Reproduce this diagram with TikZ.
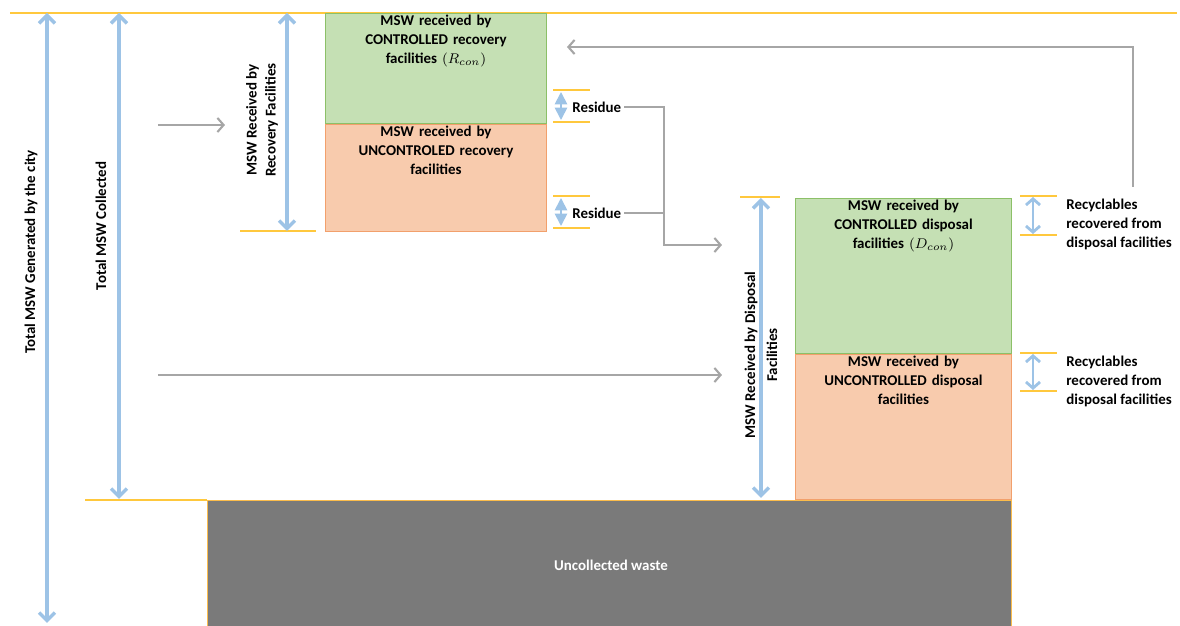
\documentclass[tikz,border=0pt]{standalone}
\usepackage{fontspec}
\setmainfont{Carlito}
\usetikzlibrary{arrows.meta}
\definecolor{lineyellow}{HTML}{FFC83D}
\definecolor{arrowblue}{HTML}{9DC3E6}
\definecolor{flowgray}{HTML}{A6A6A6}
\definecolor{confill}{HTML}{C5E0B4}
\definecolor{condraw}{HTML}{8CC068}
\definecolor{unconfill}{HTML}{F8CBAD}
\definecolor{uncondraw}{HTML}{F2A06C}
\definecolor{wastefill}{HTML}{7A7A7A}
\newcommand\diagfont{\fontsize{8.5}{10.8}\selectfont\bfseries}
\tikzset{
  yellowline/.style={lineyellow, line width=1.2pt},
  sizearrow/.style={arrowblue, line width=2pt, {Straight Barb[length=4.5pt,width=9pt]}-{Straight Barb[length=4.5pt,width=9pt]}},
  recarrow/.style={arrowblue, line width=1.6pt, {Straight Barb[length=3.5pt,width=8pt]}-{Straight Barb[length=3.5pt,width=8pt]}},
  resarrow/.style={arrowblue, line width=1pt, {Triangle[length=7pt,width=7pt]}-{Triangle[length=7pt,width=7pt]}},
  flowline/.style={flowgray, line width=1.2pt},
  flowarrow/.style={flowline, -{Straight Barb[length=3.5pt,width=8pt]}},
  conbox/.style={draw=condraw, fill=confill, line width=0.6pt, anchor=north west},
  unconbox/.style={draw=uncondraw, fill=unconfill, line width=0.6pt, anchor=north west},
  wastebox/.style={draw=lineyellow!70!uncondraw, fill=wastefill, line width=0.5pt, anchor=north west},
  boxtext/.style={text width=4cm, align=center, anchor=north},
  sidelabel/.style={rotate=90, align=center},
}
\begin{document}
\begin{tikzpicture}[scale=0.2]
		\tikzstyle{every node}+=[inner sep=0pt, font=\diagfont]
		\useasboundingbox (0,0) rectangle (118,-62.6);
		\clip (0,0) rectangle (118,-62.6);
		% levels
		\draw [yellowline] (1,-1.3) -- (117.7,-1.3);
		\draw [yellowline] (8.5,-50) -- (20.7,-50);
		% uncollected waste
		\node [wastebox, minimum width=16.08cm, minimum height=2.8cm] (waste) at (20.7,-50) {};
		\node [text=white] (wasteText) at (61.1,-56.5) {Uncollected waste};
		% totals
		\coordinate (genTop) at (4.7,-1.3);
		\coordinate (genBot) at (4.7,-62.3);
		\draw [sizearrow] (genTop) -- (genBot);
		\node [sidelabel] (genLabel) at (3.1,-25.2) {Total MSW Generated by the city};
		\coordinate (colTop) at (11.9,-1.3);
		\coordinate (colBot) at (11.9,-49.9);
		\draw [sizearrow] (colTop) -- (colBot);
		\node [sidelabel] (colLabel) at (10.1,-22.6) {Total MSW Collected};
		% recovery facilities
		\node [conbox, minimum width=4.42cm, minimum height=2.2cm] (rcon) at (32.5,-1.3) {};
		\node [unconbox, minimum width=4.42cm, minimum height=2.14cm] (runcon) at (rcon.south west) {};
		\node [boxtext] (rconText) at ([yshift=-0.2cm]rcon.north) {MSW received by\\CONTROLLED recovery\\facilities $(R_{con})$};
		\node [boxtext] (runconText) at ([yshift=-0.2cm]runcon.north) {MSW received by\\UNCONTROLED recovery\\facilities};
		\draw [yellowline] (24,-23.1) -- (31.6,-23.1);
		\coordinate (recvTop) at (28.7,-1.3);
		\coordinate (recvBot) at (28.7,-23.1);
		\draw [sizearrow] (recvTop) -- (recvBot);
		\node [sidelabel] (recvLabel) at (26.2,-12) {MSW Received by\\Recovery Facilities};
		% inflows
		\coordinate (inRecStart) at (15.8,-12.5);
		\coordinate (inRecEnd) at (22.5,-12.5);
		\draw [flowarrow] (inRecStart) -- (inRecEnd);
		\coordinate (inDisStart) at (15.8,-37.5);
		\coordinate (inDisEnd) at (72.2,-37.5);
		\draw [flowarrow] (inDisStart) -- (inDisEnd);
		% residues
		\draw [yellowline] (55.3,-9) -- (59,-9);
		\draw [yellowline] (55.3,-12.2) -- (59,-12.2);
		\draw [resarrow] (56.1,-9.2) -- (56.1,-12);
		\node [anchor=west] (res1) at (57.2,-10.7) {Residue};
		\draw [yellowline] (55.3,-19.6) -- (59,-19.6);
		\draw [yellowline] (55.3,-22.8) -- (59,-22.8);
		\draw [resarrow] (56.1,-19.8) -- (56.1,-22.6);
		\node [anchor=west] (res2) at (57.2,-21.3) {Residue};
		\coordinate (resJoin) at (66.4,-24.5);
		\coordinate (resEnd) at (72.2,-24.5);
		\draw [flowarrow] ([xshift=0.26cm]res1.east) -| (resJoin) -- (resEnd);
		\draw [flowline] ([xshift=0.26cm]res2.east) -- (res2.east -| resJoin);
		% disposal facilities
		\node [conbox, minimum width=4.32cm, minimum height=3.1cm] (dcon) at (79.5,-19.8) {};
		\node [unconbox, minimum width=4.32cm, minimum height=2.9cm] (duncon) at (dcon.south west) {};
		\node [boxtext] (dconText) at ([yshift=-0.2cm]dcon.north) {MSW received by\\CONTROLLED disposal\\facilities $(D_{con})$};
		\node [boxtext] (dunconText) at ([yshift=-0.2cm]duncon.north) {MSW received by\\UNCONTROLLED disposal\\facilities};
		\draw [yellowline] (74,-19.7) -- (78,-19.7);
		\coordinate (disTop) at (76.1,-19.8);
		\coordinate (disBot) at (76.1,-49.8);
		\draw [sizearrow] (disTop) -- (disBot);
		\node [sidelabel, font=\fontsize{8.5}{12.5}\selectfont\bfseries] (disLabel) at (76.1,-35.5) {MSW Received by Disposal\\Facilities};
		% recyclables
		\draw [yellowline] (102,-19.6) -- (105.7,-19.6);
		\draw [yellowline] (102,-23.5) -- (105.7,-23.5);
		\draw [recarrow] (103.3,-19.7) -- (103.3,-23.4);
		\node [anchor=west, align=left] (rec1) at (106.6,-22.4) {Recyclables\\recovered from\\disposal facilities};
		\draw [yellowline] (102,-35.3) -- (105.7,-35.3);
		\draw [yellowline] (102,-39.1) -- (105.7,-39.1);
		\draw [recarrow] (103.3,-35.4) -- (103.3,-39);
		\node [anchor=west, align=left] (rec2) at (106.6,-38.1) {Recyclables\\recovered from\\disposal facilities};
		% recyclables back to recovery
		\coordinate (backStart) at (113.3,-18.7);
		\coordinate (backEnd) at (56.7,-4.7);
		\draw [flowarrow] (backStart) |- (backEnd);
	\end{tikzpicture}
\end{document}
